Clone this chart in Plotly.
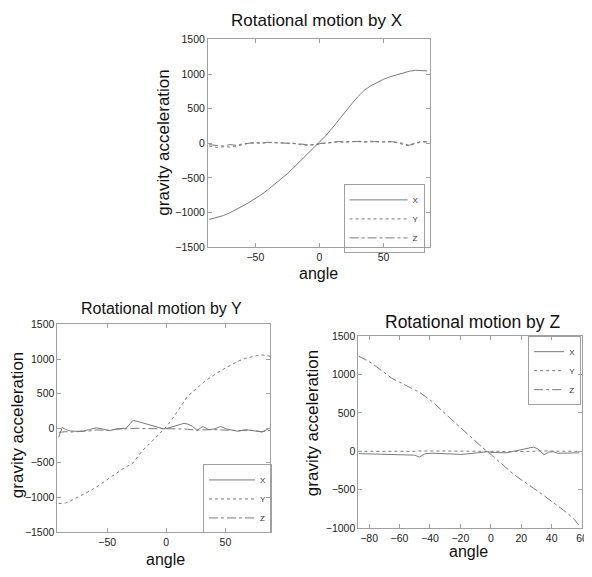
import plotly.graph_objects as go

# ---------------- data ----------------
# Plot 1: rotational motion by X
ang1 = [-86, -80, -75, -70, -65, -60, -55, -50, -45, -40, -35, -30, -25, -20, -15, -10, -5, 0,
        5, 10, 15, 20, 25, 30, 35, 40, 45, 50, 55, 60, 65, 70, 75, 80, 84]
p1_x = [-1100, -1075, -1045, -1005, -960, -908, -856, -800, -738, -668, -592, -512, -440, -350, -260,
        -170, -70, 20, 110, 220, 340, 455, 565, 675, 765, 830, 880, 925, 960, 990, 1015, 1040, 1055, 1055, 1045]
p1_y = [-40, -60, -50, -55, -40, -20, 0, 5, 0, 10, 5, 0, 5, 0, -20, -30, -20, -10,
        0, 10, 20, 15, 20, 30, 20, 30, 20, 25, 20, 10, -10, -40, 0, 20, 15]
p1_z = [-20, -30, -40, -20, -30, -10, 5, 10, 5, 15, 10, 5, 10, 5, -10, -20, -25, -5,
        5, 15, 25, 20, 25, 25, 15, 25, 25, 20, 25, 15, 0, -30, 10, 25, 20]

# Plot 2: rotational motion by Y
ang2 = [-91, -88, -85, -81, -75, -70, -65, -59, -53, -48, -42, -37, -34, -28, -24, -20, -15, -10,
        -5, -2, 0, 5, 10, 15, 18, 22, 26, 31, 36, 41, 46, 51, 56, 61, 67, 72, 77, 81, 85, 88]
p2_x = [-130, 10, -20, -40, -45, -40, -20, 5, -15, -35, -10, -5, 0, 115, 95, 75, 45, 25,
        0, -10, -5, 20, 45, 70, 60, 30, -30, 25, -20, -10, 25, -10, -30, -45, -20, -30, -45, -55, -20, 5]
p2_y = [-1090, -1090, -1080, -1050, -1000, -960, -910, -850, -780, -710, -640, -590, -560, -500, -410,
        -320, -240, -150, -60, -10, 20, 130, 260, 400, 460, 520, 585, 655, 720, 780, 830, 880, 930, 970,
        1010, 1035, 1050, 1060, 1050, 1040]
p2_z = [-60, -55, -50, -55, -50, -45, -40, -25, -25, -30, -15, -10, -5, 0, 0, -5, -5, -10,
        -10, -5, 0, -5, -5, -10, -15, -20, -30, -25, -20, -20, -25, -30, -35, -40, -35, -30, -40, -50, -40, -30]

# Plot 3: rotational motion by Z
ang3 = [-87, -80, -75, -70, -65, -60, -55, -50, -47, -43, -38, -30, -25, -20, -16, -10, -5, -2,
        0, 5, 10, 15, 20, 24, 28, 31, 35, 38, 41, 44, 50, 55, 58]
p3_x = [-30, -35, -35, -40, -40, -45, -45, -50, -75, -30, -25, -30, -40, -40, -35, -20, -10, -5,
        -15, -15, -20, 0, 20, 37, 55, 30, -45, -10, -5, -25, -25, -25, -20]
p3_y = [0, 0, -5, -5, 0, -5, -5, 0, 5, 5, 5, 0, 0, 0, 0, 0, 0, 0,
        0, 0, -5, -5, -5, 0, 0, 5, 5, 5, 0, 0, 0, 0, 0]
p3_z = [1240, 1170, 1100, 1020, 951, 900, 850, 800, 770, 715, 640, 490, 400, 310, 240, 120, 40, -5,
        -40, -120, -220, -300, -370, -420, -480, -520, -580, -620, -665, -705, -800, -890, -965]

series_names = ["X", "Y", "Z"]
dashes = ["solid", "dot", "dashdot"]

x_ticks_12 = [-50, 0, 50]
x_ticks_3 = [-80, -60, -40, -20, 0, 20, 40, 60]
y_ticks_12 = [-1500, -1000, -500, 0, 500, 1000, 1500]
y_ticks_3 = [-1000, -500, 0, 500, 1000, 1500]

titles = ["Rotational motion by X", "Rotational motion by Y", "Rotational motion by Z"]

# ---------------- figure ----------------
FONT = "Liberation Sans, Arial, sans-serif"
LINE_COL = "#7a7a7a"
FRAME_COL = "#a0a0a0"

fig = go.Figure()

panels = [
    (ang1, [p1_x, p1_y, p1_z], "x", "y", "legend"),
    (ang2, [p2_x, p2_y, p2_z], "x2", "y2", "legend2"),
    (ang3, [p3_x, p3_y, p3_z], "x3", "y3", "legend3"),
]
for ang, vals, xa, ya, lg in panels:
    for name, dash, v in zip(series_names, dashes, vals):
        fig.add_trace(go.Scatter(
            x=ang, y=v, mode="lines", name=name, xaxis=xa, yaxis=ya, legend=lg,
            line=dict(color=LINE_COL, width=1, dash=dash),
        ))

def ax(domain, rng, ticks, anchor):
    return dict(domain=domain, range=rng, tickvals=ticks, anchor=anchor,
                showline=True, linecolor=FRAME_COL, linewidth=1, mirror="ticks",
                ticks="inside", ticklen=4, tickcolor=FRAME_COL, showgrid=False, zeroline=False,
                tickfont=dict(family=FONT, size=10.5, color="#222"))

W, H = 592, 577
OFF = 8  # the page body margin shifts the figure by 8px
def px(x):
    return (x - OFF) / W
def py(y):
    return 1 - (y - OFF) / H

leg_common = dict(bgcolor="rgba(255,255,255,0)", bordercolor=FRAME_COL, borderwidth=1,
                  font=dict(family=FONT, size=8, color="#333"), tracegroupgap=0,
                  yanchor="top")

fig.update_layout(
    width=W, height=H, margin=dict(l=0, r=0, t=0, b=0),
    paper_bgcolor="white", plot_bgcolor="white", showlegend=True,
    xaxis=ax([px(210), px(434)], [-87, 86], x_ticks_12, "y"),
    yaxis=ax([py(246), py(34)], [-1500, 1500], y_ticks_12, "x"),
    xaxis2=ax([px(58), px(273)], [-92, 88], x_ticks_12, "y2"),
    yaxis2=ax([py(537), py(325)], [-1500, 1500], y_ticks_12, "x2"),
    xaxis3=ax([px(362), px(588)], [-87, 60], x_ticks_3, "y3"),
    yaxis3=ax([py(533), py(337)], [-1000, 1500], y_ticks_3, "x3"),
    legend=dict(x=px(347), y=py(182), xanchor="left", itemwidth=58, **leg_common),
    legend2=dict(x=px(205), y=py(468), xanchor="left", itemwidth=46, **leg_common),
    legend3=dict(x=px(587), y=py(337), xanchor="right", itemwidth=30, **leg_common),
)

ann = []
def text(x, y, s, size, angle=0):
    ann.append(dict(x=px(x), y=py(y), xref="paper", yref="paper", text=s, showarrow=False,
                    xanchor="center", yanchor="middle", textangle=angle,
                    font=dict(family=FONT, size=size, color="#111")))

text(320, 15, titles[0], 17)
text(163, 309, titles[1], 16)
text(477, 323, titles[2], 17.5)
text(322, 273, "angle", 16)
text(167, 565, "angle", 16)
text(473, 557, "angle", 16)
text(165, 139, "gravity acceleration", 17, -90)
text(17, 428, "gravity acceleration", 17, -90)
text(315, 426, "gravity acceleration", 17, -90)
fig.update_layout(annotations=ann)

fig.write_html("out.html")
